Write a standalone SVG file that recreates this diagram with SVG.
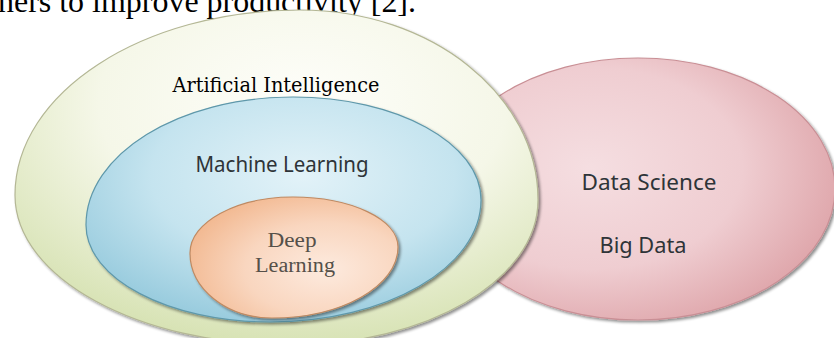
<svg xmlns="http://www.w3.org/2000/svg" width="834" height="338" viewBox="0 0 834 338">
  <defs>
    <style>
      .body { font-family: "Liberation Serif", "Times New Roman", serif; fill: #000; }
      .ai-label { font-family: "DejaVu Serif", "Liberation Serif", serif; fill: #000; }
      .sans-label { font-family: "Noto Sans", "Open Sans", "Liberation Sans", sans-serif; fill: #2e3438; }
      .dl-label { font-family: "Liberation Serif", "DejaVu Serif", serif; fill: #555049; }
    </style>
    <filter id="soft-shadow" x="-10%" y="-10%" width="120%" height="125%">
      <feGaussianBlur in="SourceAlpha" stdDeviation="1.6"/>
      <feOffset dx="1.5" dy="2" result="off"/>
      <feComponentTransfer><feFuncA type="linear" slope="0.45"/></feComponentTransfer>
      <feMerge><feMergeNode/><feMergeNode in="SourceGraphic"/></feMerge>
    </filter>
    <radialGradient id="fill-ds" cx="0.38" cy="0.42" r="0.7">
      <stop offset="0" stop-color="#f5dee1"/>
      <stop offset="0.55" stop-color="#efcdd1"/>
      <stop offset="1" stop-color="#dc9fa4"/>
    </radialGradient>
    <radialGradient id="fill-ai" cx="0.55" cy="0.28" r="0.78">
      <stop offset="0" stop-color="#fefefa"/>
      <stop offset="0.5" stop-color="#f5f7e8"/>
      <stop offset="1" stop-color="#d2dfab"/>
    </radialGradient>
    <radialGradient id="fill-ml" cx="0.55" cy="0.35" r="0.7">
      <stop offset="0" stop-color="#e2f2f8"/>
      <stop offset="0.55" stop-color="#c5e4ef"/>
      <stop offset="1" stop-color="#94c9dc"/>
    </radialGradient>
    <radialGradient id="fill-dl" cx="0.65" cy="0.6" r="0.7">
      <stop offset="0" stop-color="#fdeade"/>
      <stop offset="0.55" stop-color="#f9d6bf"/>
      <stop offset="1" stop-color="#f2b890"/>
    </radialGradient>
  </defs>

  <!-- running text line at the top of the page -->
  <text class="body" x="-2" y="12" font-size="31" textLength="418" lengthAdjust="spacingAndGlyphs">ners to improve productivity [2].</text>

  <!-- Data Science sits behind the AI set -->
  <g id="data-science">
    <ellipse cx="638" cy="189" rx="197" ry="131" fill="url(#fill-ds)" stroke="#c98f95" stroke-width="1.2" filter="url(#soft-shadow)"/>
    <text class="sans-label" x="649" y="190" font-size="21" text-anchor="middle" textLength="135" lengthAdjust="spacingAndGlyphs">Data Science</text>
    <text class="sans-label" x="643" y="253" font-size="21" text-anchor="middle" textLength="87" lengthAdjust="spacingAndGlyphs">Big Data</text>
  </g>

  <!-- Artificial Intelligence: outer set -->
  <g id="artificial-intelligence">
    <path d="M 15 195 C 15 92.8 142.6 10 300 10 C 431.4 10 538 95.1 538 200 C 538 280 427 345 290 345 C 138 345 15 277.8 15 195 Z" fill="url(#fill-ai)" stroke="#b4b795" stroke-width="1.2" filter="url(#soft-shadow)"/>
    <text class="ai-label" x="276" y="92" font-size="20" text-anchor="middle" textLength="207" lengthAdjust="spacingAndGlyphs">Artificial Intelligence</text>
  </g>

  <!-- Machine Learning: inside AI -->
  <g id="machine-learning">
    <path d="M 86 225 C 86 154.3 178.7 97 293 97 C 396.8 97 481 143.1 481 200 C 481 267.4 386.5 322 270 322 C 168.4 322 86 278.6 86 225 Z" fill="url(#fill-ml)" stroke="#5f98aa" stroke-width="1.2" filter="url(#soft-shadow)"/>
    <text class="sans-label" x="282" y="172" font-size="21" text-anchor="middle" textLength="173" lengthAdjust="spacingAndGlyphs">Machine Learning</text>
  </g>

  <!-- Deep Learning: inside Machine Learning -->
  <g id="deep-learning">
    <path d="M 190 253 C 190 222.1 236.1 197 293 197 C 351 197 398 219.4 398 247 C 398 286.2 341.6 318 272 318 C 226.7 318 190 288.9 190 253 Z" fill="url(#fill-dl)" stroke="#c08a62" stroke-width="1.2" filter="url(#soft-shadow)"/>
    <text class="dl-label" x="292" y="247" font-size="20" text-anchor="middle" textLength="49" lengthAdjust="spacingAndGlyphs">Deep</text>
    <text class="dl-label" x="295" y="272" font-size="20" text-anchor="middle" textLength="80" lengthAdjust="spacingAndGlyphs">Learning</text>
  </g>
</svg>
